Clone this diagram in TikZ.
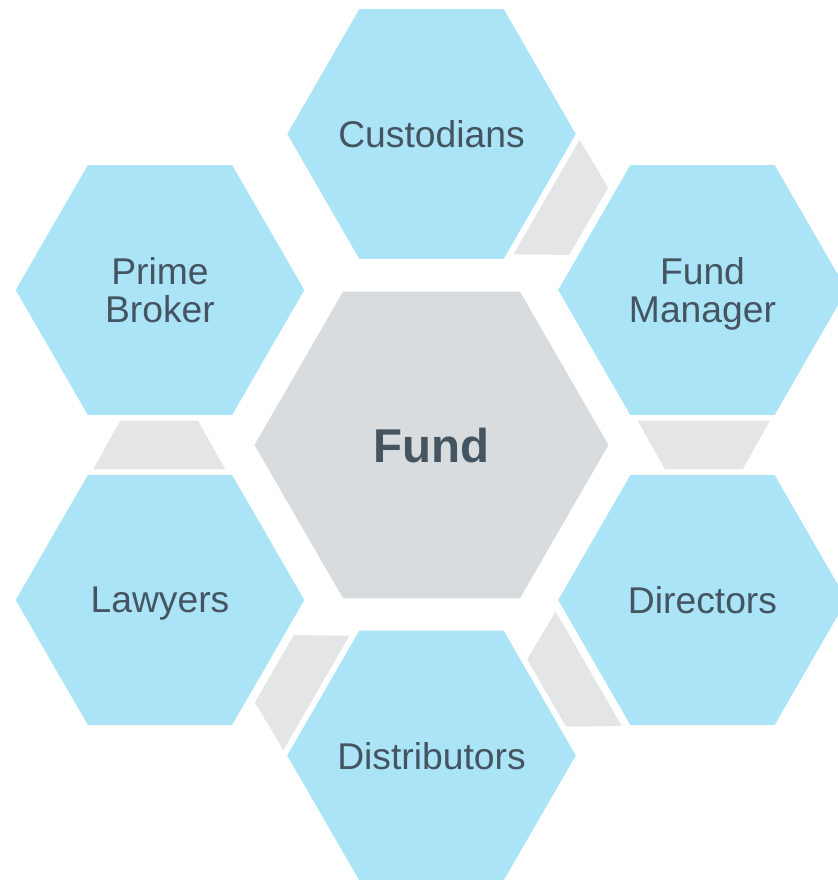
\documentclass[tikz,border=0pt]{standalone}
\usepackage{fontspec}
\setmainfont{Liberation Sans}
\usepackage{tikz}
\usetikzlibrary{shapes.geometric}
\usepackage{xcolor}
\definecolor{hexblue}{RGB}{172,228,247}
\definecolor{fundgrey}{RGB}{217,220,223}
\definecolor{linkgrey}{RGB}{228,229,231}
\definecolor{labeltext}{RGB}{68,84,96}

\begin{document}
\begin{tikzpicture}[
  hexa/.style={regular polygon,regular polygon sides=6,inner sep=0pt,outer sep=0pt,
    minimum size=2.886cm,fill=hexblue},
  hub/.style={hexa,minimum size=3.54cm,fill=fundgrey},
  every label/.style={text=labeltext,align=center,text depth=0pt,inner sep=0pt,
    font=\fontsize{10.6}{11}\selectfont}]
\useasboundingbox (-4.315,-4.35) rectangle (4.065,4.45);
\node[hub,label={[font=\fontsize{13.5}{14}\selectfont\bfseries]center:Fund}] (F) at (0,0) {};
% grey links between neighbouring hexagons
\foreach \a in {0,60,180,240,300}
  \fill[linkgrey,shift={(F)},rotate=\a] (3.112,-0.243) -- (2.335,-0.243)
    -- (2.062,0.243) -- (3.383,0.243) -- cycle;
\node[hexa,label=center:Custodians] (C) at (0,3.11) {};
\node[hexa,label={center:Prime\\Broker}] (PB) at (-2.715,1.55) {};
\node[hexa,label={center:Fund\\Manager}] (FM) at (2.71,1.55) {};
\node[hexa,label=center:Lawyers] (L) at (-2.715,-1.55) {};
\node[hexa,label=center:Directors] (D) at (2.71,-1.55) {};
\node[hexa,label=center:Distributors] (Ds) at (0,-3.105) {};
\end{tikzpicture}
\end{document}
